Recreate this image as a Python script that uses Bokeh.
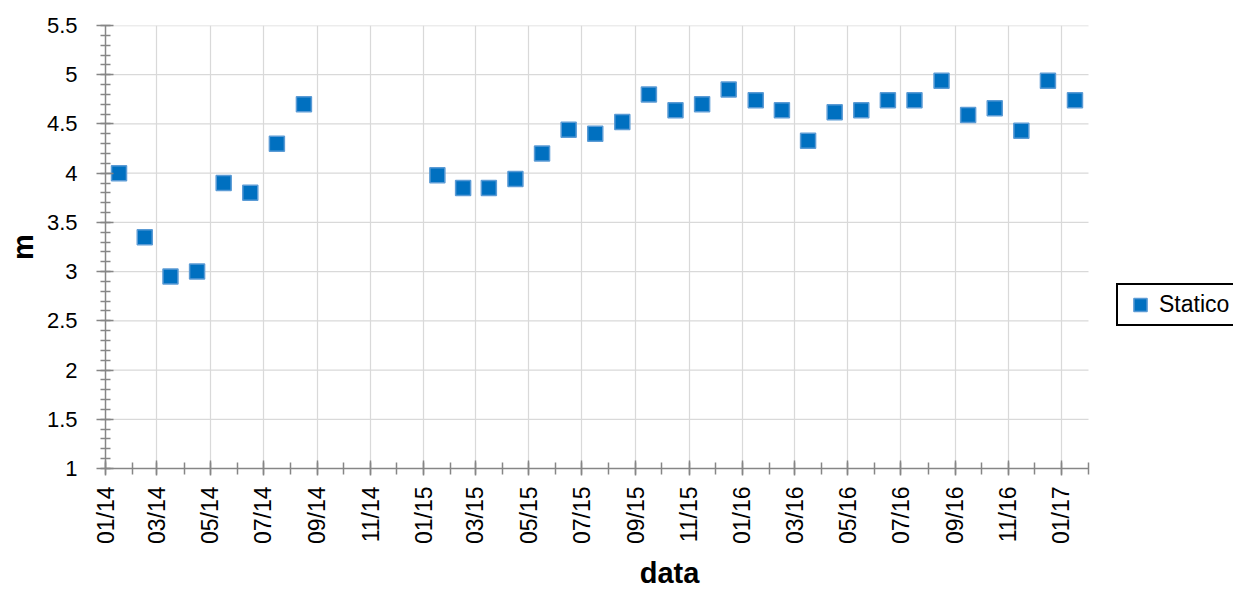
import pandas as pd
import numpy as np
from bokeh.plotting import figure
from bokeh.models import (ColumnDataSource, Range1d, FixedTicker, SingleIntervalTicker,
                          DatetimeTickFormatter, Legend, LegendItem)
from bokeh.embed import file_html
from bokeh.resources import INLINE
import math

# ---- data ----
months = ["2014-01", "2014-02", "2014-03", "2014-04", "2014-05", "2014-06", "2014-07", "2014-08",
          "2015-01", "2015-02", "2015-03", "2015-04", "2015-05", "2015-06", "2015-07", "2015-08",
          "2015-09", "2015-10", "2015-11", "2015-12", "2016-01", "2016-02", "2016-03", "2016-04",
          "2016-05", "2016-06", "2016-07", "2016-08", "2016-09", "2016-10", "2016-11", "2016-12",
          "2017-01"]
statico = [4.00, 3.35, 2.95, 3.00, 3.90, 3.80, 4.30, 4.70,
           3.98, 3.85, 3.85, 3.94, 4.20, 4.44, 4.40, 4.52,
           4.80, 4.64, 4.70, 4.85, 4.74, 4.64, 4.33, 4.62,
           4.64, 4.74, 4.74, 4.94, 4.59, 4.66, 4.43, 4.94,
           4.74]
series_name = "Statico"
x_title = "data"
y_title = "m"
x_start, x_end = "2014-01", "2017-02"
y_min, y_max, y_step = 1, 5.5, 0.5

# ---- layout constants (pixels) ----
W, H = 1233, 592
LEFT, TOP, BOTTOM = 105, 25, 123
AXIS_RIGHT = 1088          # where the x axis ends
FONT = "Liberation Sans"

t0, t1 = pd.Timestamp(x_start), pd.Timestamp(x_end)
frame_w = W - LEFT
# extend the range so that the axis end lands at AXIS_RIGHT and the space to the right holds the legend
t_range_end = t0 + (t1 - t0) * (frame_w / (AXIS_RIGHT - LEFT))

# mid-month positions
starts = pd.to_datetime(months)
mids = [s + (s + pd.offsets.MonthBegin(1) - s) / 2 for s in starts]
src = ColumnDataSource(dict(x=mids, y=statico))

p = figure(width=W, height=H, output_backend="svg", toolbar_location=None,
           x_axis_type="datetime",
           x_range=Range1d(t0, t_range_end),
           y_range=Range1d(y_min, y_max),
           min_border_left=LEFT, min_border_right=0, min_border_top=TOP, min_border_bottom=BOTTOM)
p.outline_line_color = None
p.background_fill_color = "white"
p.border_fill_color = "white"

# horizontal grid lines, limited to the axis extent
yt = list(np.arange(y_min, y_max + y_step / 2, y_step))
p.ygrid.visible = False
p.segment(x0=[t0] * len(yt), x1=[t1] * len(yt), y0=yt, y1=yt,
          line_color="#d9d9d9", line_width=1.25)

r = p.scatter("x", "y", source=src, marker="square", size=15,
              fill_color="#0070C0", line_color="#5B9BD5", line_width=1.5)

# x ticks
month_all = pd.date_range(t0, t1, freq="MS")
def ms(t):
    return (t - pd.Timestamp("1970-01-01")).total_seconds() * 1000.0
major = [ms(t) for t in month_all if t.month % 2 == 1]
minor = [ms(t) for t in month_all]
p.xaxis.ticker = FixedTicker(ticks=major, minor_ticks=minor)
p.xaxis.bounds = (ms(t0), ms(t1))
fmt = "%m/%y"
p.xaxis.formatter = DatetimeTickFormatter(microseconds=fmt, milliseconds=fmt, seconds=fmt,
                                          minsec=fmt, minutes=fmt, hourmin=fmt, hours=fmt,
                                          days=fmt, months=fmt, years=fmt, context=None)
p.xaxis.major_label_orientation = math.pi / 2

p.yaxis.ticker = SingleIntervalTicker(interval=y_step, num_minor_ticks=5)
p.yaxis.major_label_overrides = {1: "1", 2: "2", 3: "3", 4: "4", 5: "5"}

for ax in (p.xaxis[0], p.yaxis[0]):
    ax.axis_line_color = "#868686"
    ax.axis_line_width = 1.5
    ax.major_tick_line_color = "#868686"
    ax.minor_tick_line_color = "#868686"
    ax.major_tick_line_width = 1.5
    ax.minor_tick_line_width = 1.5
    ax.major_label_text_font = FONT
    ax.major_label_text_font_size = "22px"
    ax.major_label_text_color = "black"
    ax.axis_label_text_font = FONT
    ax.axis_label_text_font_style = "bold"
    ax.axis_label_text_font_size = "29px"
    ax.axis_label_text_color = "black"

p.xaxis.major_tick_in = 8
p.xaxis.major_tick_out = 7
p.xaxis.minor_tick_in = 6
p.xaxis.minor_tick_out = 6
p.xaxis.major_label_standoff = 11
p.xaxis.major_label_text_font_size = "23px"
p.xaxis.axis_label = x_title
p.xaxis.axis_label_standoff = 10

p.yaxis.major_tick_in = 8
p.yaxis.major_tick_out = 9
p.yaxis.minor_tick_in = 5
p.yaxis.minor_tick_out = 5
p.yaxis.major_label_standoff = 19
p.yaxis.axis_label = y_title
p.yaxis.axis_label_standoff = 5

p.xgrid.grid_line_color = "#d9d9d9"
p.xgrid.grid_line_width = 1.25

legend = Legend(items=[LegendItem(label=series_name, renderers=[r])],
                location=(1116 - LEFT, (H - BOTTOM) - 327), orientation="vertical",
                border_line_color="black", border_line_width=2, border_line_alpha=1.0,
                background_fill_color="white", background_fill_alpha=1,
                label_text_font=FONT, label_text_font_size="23px",
                label_text_color="black", glyph_width=38, glyph_height=33,
                label_standoff=0, padding=3, spacing=0, margin=0,
                label_height=20, label_width=100)
p.add_layout(legend, "center")

open("out.html", "w").write(file_html(p, INLINE))
